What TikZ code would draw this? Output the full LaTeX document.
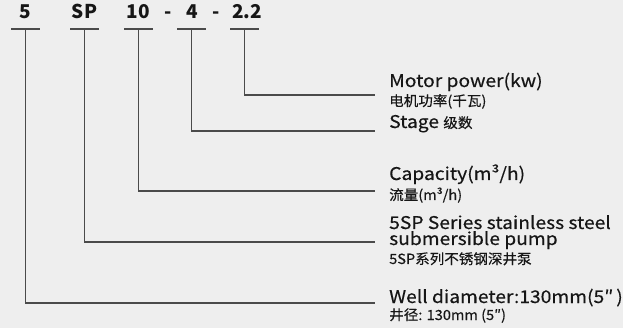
\documentclass[tikz,border=0pt]{standalone}
\usepackage{fontspec}
\setmainfont{Noto Sans CJK SC}
\newfontfamily\descfont[FakeStretch=1.1,FakeBold=0.4]{Noto Sans CJK SC}
\newfontfamily\notefont[FakeStretch=1.04,FakeBold=0.4]{Noto Sans CJK SC}
\usetikzlibrary{positioning}
\definecolor{bgcolor}{HTML}{EEEEEE}
\definecolor{linegray}{HTML}{4A4A4A}
\definecolor{inkgray}{HTML}{161616}

\begin{document}
\begin{tikzpicture}
    [x=1pt,y=-1pt,
    code/.style={text=inkgray,font=\bfseries\fontsize{19}{19}\selectfont,
    inner sep=0pt,anchor=base},
    desc/.style={text=inkgray,font=\descfont\fontsize{17.5}{16}\selectfont,
    inner sep=0pt,anchor=base west,align=left},
    note/.style={text=inkgray,font=\notefont\fontsize{14}{14}\selectfont,
    inner sep=0pt,anchor=base west},
    wire/.style={draw=linegray,line width=1.4pt}]
    \useasboundingbox[fill=bgcolor] (0,0) rectangle (623,328);
    % model code
    \node (code 5) [code] at (25.5,19) {5};
    \node (code sp) [code] at (84.5,19) {SP};
    \node (code 10) [code] at (138.5,19) {10};
    \node (dash 1) [code] at (168,19) {-};
    \node (code 4) [code] at (192.5,19) {4};
    \node (dash 2) [code] at (216,19) {-};
    \node (code 22) [code] at (247,19) {2.2};
    % ticks under the code
    \foreach \name/\x in {5/25.5,sp/84.5,10/138.5,4/191.5,22/244.5}{
        \coordinate (tick \name) at (\x,29);
        \draw[wire] ([xshift=-14.5pt]tick \name) -- ([xshift=14.5pt]tick \name);
    }
    % meanings
    \node (power) [desc] at (389,87) {Motor power(kw)};
    \node (power cn) [note] at (389,106) {电机功率(千瓦)};
    \node (stage) [desc] at (389,128) {Stage \notefont\fontsize{14}{14}\selectfont 级数};
    \node (capacity) [desc] at (389,180) {Capacity(m³/h)};
    \node (capacity cn) [note] at (389,200) {流量(m³/h)};
    \node (series) [desc] at (389,245) {5SP Series stainless steel\\submersible pump};
    \node (series cn) [note] at (389,264) {5SP系列不锈钢深井泵};
    \node (well) [desc] at (389,303) {Well diameter:130mm(5″\,)};
    \node (well cn) [note] at (389,320) {井径: 130mm (5″)};
    % leaders
    \coordinate (end 22) at (375,95);
    \coordinate (end 4) at (375,131);
    \coordinate (end 10) at (375,191);
    \coordinate (end sp) at (375,242);
    \coordinate (end 5) at (375,303);
    \foreach \name in {5,sp,10,4,22}
        \draw[wire] (tick \name) |- (end \name);
\end{tikzpicture}
\end{document}
